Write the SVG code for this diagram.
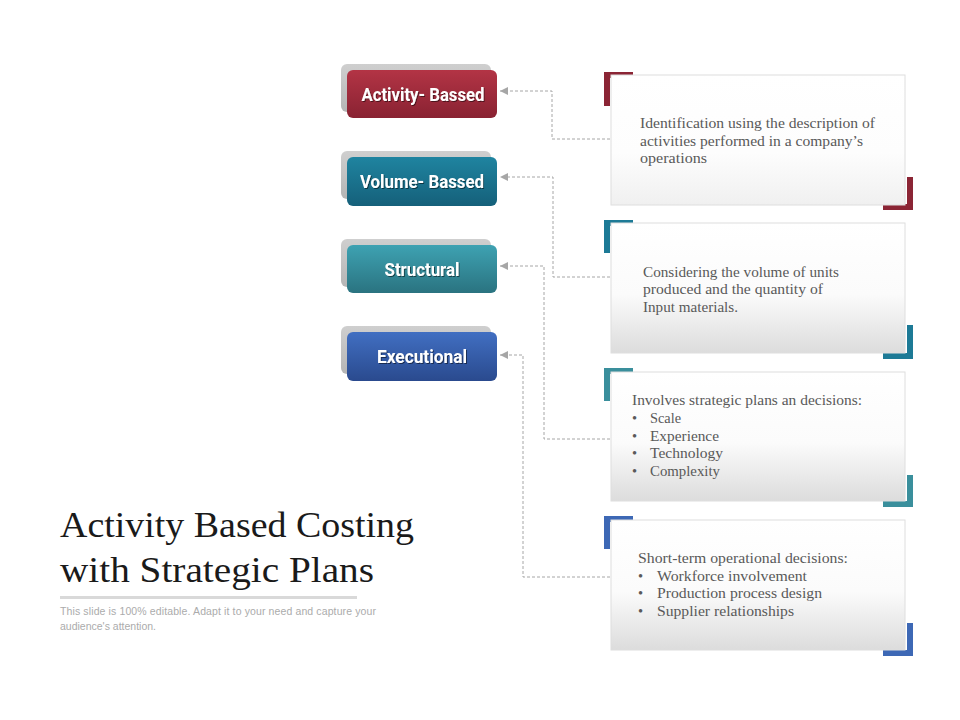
<svg xmlns="http://www.w3.org/2000/svg" width="960" height="720" viewBox="0 0 960 720">
<style>
.btnTxt{font-family:"Roboto","Liberation Sans",sans-serif;font-weight:bold;font-size:19px;fill:#ffffff;text-anchor:middle}
.boxTxt{font-family:"Liberation Serif","DejaVu Serif",serif;font-size:14.5px;fill:#595959}
.conn{fill:none;stroke:#a6a6a6;stroke-width:1;stroke-dasharray:3 2}
.shadowRect{fill:url(#gShadow)}
.card{fill:url(#gCard);stroke:#dedede;stroke-width:1}
.title{font-family:"Liberation Serif","DejaVu Serif",serif;font-size:35px;fill:#1a1a1a}
.sub{font-family:"Liberation Sans","Arial",sans-serif;font-size:10.5px;fill:#ababab}
</style>
<defs>
<linearGradient id="gShadow" x1="0" y1="0" x2="0" y2="1"><stop offset="0" stop-color="#cfcfcf"/><stop offset="1" stop-color="#b5b5b5"/></linearGradient>
<linearGradient id="gRed" x1="0" y1="0" x2="0" y2="1"><stop offset="0" stop-color="#b33445"/><stop offset="1" stop-color="#892232"/></linearGradient>
<linearGradient id="gTeal" x1="0" y1="0" x2="0" y2="1"><stop offset="0" stop-color="#1f84a0"/><stop offset="1" stop-color="#15607a"/></linearGradient>
<linearGradient id="gAqua" x1="0" y1="0" x2="0" y2="1"><stop offset="0" stop-color="#3ea2b2"/><stop offset="1" stop-color="#2a7380"/></linearGradient>
<linearGradient id="gBlue" x1="0" y1="0" x2="0" y2="1"><stop offset="0" stop-color="#416fc2"/><stop offset="1" stop-color="#2a4a8e"/></linearGradient>
<linearGradient id="gCard" x1="0" y1="0" x2="0" y2="1"><stop offset="0" stop-color="#ffffff"/><stop offset="0.55" stop-color="#fbfbfb"/><stop offset="1" stop-color="#dcdcdc"/></linearGradient>
<linearGradient id="gCard1" x1="0" y1="0" x2="0" y2="1"><stop offset="0" stop-color="#ffffff"/><stop offset="0.6" stop-color="#fdfdfd"/><stop offset="1" stop-color="#f0f0f0"/></linearGradient>
<filter id="ts" x="-10%" y="-30%" width="120%" height="160%"><feDropShadow dx="1" dy="1" stdDeviation="0.6" flood-color="#000" flood-opacity="0.5"/></filter>
<marker id="arr" viewBox="0 0 10 10" refX="10" refY="5" markerWidth="8" markerHeight="8" markerUnits="userSpaceOnUse" orient="auto"><path d="M0,0 L10,5 L0,10 Z" fill="#a6a6a6"/></marker>
</defs>
<rect width="960" height="720" fill="#ffffff"/>

<g id="connectors">
<path class="conn" d="M610,139 H552 V91 H500" marker-end="url(#arr)"/>
<path class="conn" d="M610,277 H553 V177 H500" marker-end="url(#arr)"/>
<path class="conn" d="M610,439 H544 V266 H500" marker-end="url(#arr)"/>
<path class="conn" d="M610,577 H523 V355 H500" marker-end="url(#arr)"/>
</g>

<g id="node-activity">
<rect class="shadowRect" x="341" y="64" width="150" height="48" rx="6"/>
<rect x="347" y="70" width="150" height="48" rx="6" fill="url(#gRed)"/>
<text class="btnTxt" x="423" y="101" textLength="123" lengthAdjust="spacingAndGlyphs" filter="url(#ts)">Activity- Bassed</text>
</g>
<g id="node-volume">
<rect class="shadowRect" x="341" y="151" width="150" height="48" rx="6"/>
<rect x="347" y="157" width="150" height="49" rx="6" fill="url(#gTeal)"/>
<text class="btnTxt" x="422" y="188" textLength="124" lengthAdjust="spacingAndGlyphs" filter="url(#ts)">Volume- Bassed</text>
</g>
<g id="node-structural">
<rect class="shadowRect" x="341" y="239" width="150" height="48" rx="6"/>
<rect x="347" y="245" width="150" height="48" rx="6" fill="url(#gAqua)"/>
<text class="btnTxt" x="422" y="276" textLength="75" lengthAdjust="spacingAndGlyphs" filter="url(#ts)">Structural</text>
</g>
<g id="node-executional">
<rect class="shadowRect" x="341" y="326" width="150" height="48" rx="6"/>
<rect x="347" y="332" width="150" height="49" rx="6" fill="url(#gBlue)"/>
<text class="btnTxt" x="422" y="363" textLength="90" lengthAdjust="spacingAndGlyphs" filter="url(#ts)">Executional</text>
</g>

<g id="card-1">
<path d="M604,106 V72 H633 V78 H610 V106 Z" fill="#8b2535"/>
<path d="M913,177 V210 H883 V204 H907 V177 Z" fill="#8b2535"/>
<rect class="card" x="611" y="75" width="294" height="130" style="fill:url(#gCard1)"/>
<text class="boxTxt"><tspan x="640" y="128" textLength="235" lengthAdjust="spacingAndGlyphs">Identification using the description of</tspan><tspan x="640" y="146" textLength="223" lengthAdjust="spacingAndGlyphs">activities performed in a company’s</tspan><tspan x="640" y="163" textLength="67" lengthAdjust="spacingAndGlyphs">operations</tspan></text>
</g>

<g id="card-2">
<path d="M604,253 V220 H633 V226 H610 V253 Z" fill="#1d7a96"/>
<path d="M913,325 V359 H883 V353 H907 V325 Z" fill="#1d7a96"/>
<rect class="card" x="611" y="223" width="294" height="130"/>
<text class="boxTxt"><tspan x="643" y="277" textLength="196" lengthAdjust="spacingAndGlyphs">Considering the volume of units</tspan><tspan x="643" y="294" textLength="180" lengthAdjust="spacingAndGlyphs">produced and the quantity of</tspan><tspan x="643" y="312" textLength="95" lengthAdjust="spacingAndGlyphs">Input materials.</tspan></text>
</g>

<g id="card-3">
<path d="M604,401 V368 H633 V374 H610 V401 Z" fill="#3a8f9c"/>
<path d="M913,475 V507 H883 V501 H907 V475 Z" fill="#3a8f9c"/>
<rect class="card" x="611" y="372" width="294" height="129"/>
<text class="boxTxt"><tspan x="632" y="405" textLength="230" lengthAdjust="spacingAndGlyphs">Involves strategic plans an decisions:</tspan><tspan x="632" y="423">•</tspan><tspan x="650" y="423" textLength="31" lengthAdjust="spacingAndGlyphs">Scale</tspan><tspan x="632" y="441">•</tspan><tspan x="650" y="441" textLength="69" lengthAdjust="spacingAndGlyphs">Experience</tspan><tspan x="632" y="458">•</tspan><tspan x="650" y="458" textLength="73" lengthAdjust="spacingAndGlyphs">Technology</tspan><tspan x="632" y="476">•</tspan><tspan x="650" y="476" textLength="70" lengthAdjust="spacingAndGlyphs">Complexity</tspan></text>
</g>

<g id="card-4">
<path d="M604,549 V516 H633 V522 H610 V549 Z" fill="#3d68b5"/>
<path d="M913,623 V656 H883 V650 H907 V623 Z" fill="#3d68b5"/>
<rect class="card" x="611" y="520" width="294" height="130"/>
<text class="boxTxt"><tspan x="638" y="563" textLength="210" lengthAdjust="spacingAndGlyphs">Short-term operational decisions:</tspan><tspan x="638" y="581">•</tspan><tspan x="657" y="581" textLength="150" lengthAdjust="spacingAndGlyphs">Workforce involvement</tspan><tspan x="638" y="598">•</tspan><tspan x="657" y="598" textLength="165" lengthAdjust="spacingAndGlyphs">Production process design</tspan><tspan x="638" y="616">•</tspan><tspan x="657" y="616" textLength="137" lengthAdjust="spacingAndGlyphs">Supplier relationships</tspan></text>
</g>

<g id="title-block">
<text class="title" x="60" y="537" textLength="354" lengthAdjust="spacingAndGlyphs">Activity Based Costing</text>
<text class="title" x="60" y="582" textLength="314" lengthAdjust="spacingAndGlyphs">with Strategic Plans</text>
<rect x="60" y="596" width="297" height="3" fill="#d9d9d9"/>
<text class="sub" x="60" y="615" textLength="316">This slide is 100% editable. Adapt it to your need and capture your</text>
<text class="sub" x="60" y="630">audience's attention.</text>
</g>
</svg>
